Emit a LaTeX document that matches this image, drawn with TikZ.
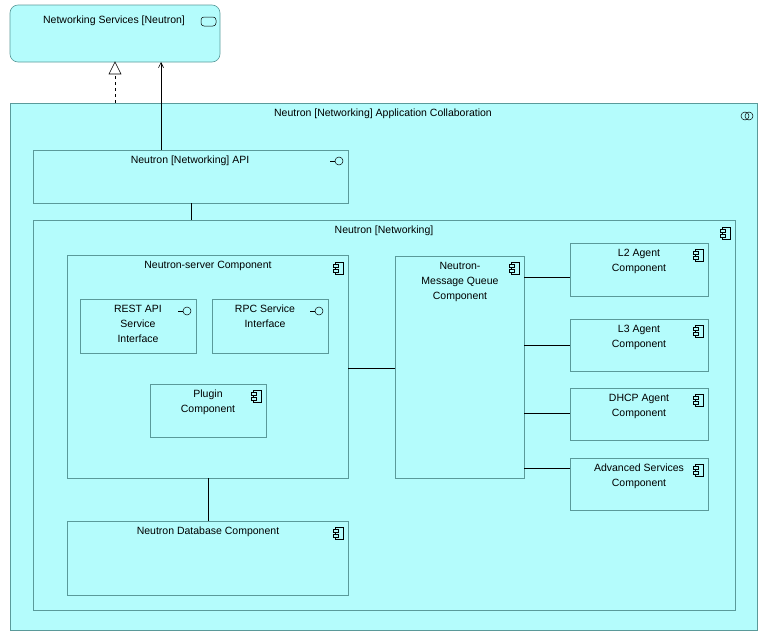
\documentclass[tikz,border=0pt]{standalone}
\usepackage{fontspec}
\setmainfont{Liberation Sans}
\usetikzlibrary{arrows.meta,calc}
\definecolor{boxfill}{HTML}{B4FCFC}
\definecolor{boxline}{HTML}{5A9A9A}
\tikzset{
  box/.style={draw=boxline,fill=boxfill,line width=0.6pt},
  lbl/.style={font=\fontsize{10.5}{15}\selectfont,align=center,anchor=north,inner sep=0pt},
  conn/.style={draw=black,line width=0.6pt},
}
% component icon at (x,y) top-right corner
\newcommand{\compicon}[1]{%
  \draw[line width=0.5pt] ($(#1)+(-13,5)$) rectangle ++(8,12);
  \draw[line width=0.5pt,fill=boxfill] ($(#1)+(-15,7)$) rectangle ++(5,3);
  \draw[line width=0.5pt,fill=boxfill] ($(#1)+(-15,12)$) rectangle ++(5,3);}
\newcommand{\ifaceicon}[1]{%
  \draw[line width=0.5pt] ($(#1)+(-18,11)$) -- ++(5,0);
  \draw[line width=0.5pt] ($(#1)+(-9,11)$) circle (4);}
\begin{document}
\begin{tikzpicture}[x=1pt,y=-1pt]
\useasboundingbox (0,0) rectangle (768,640);
% boxes
\draw[box,rounded corners=8] (10,5) rectangle (220,62);
\coordinate (svc) at (220,5);
\node[lbl] (svct) at (114,16) {Networking Services [Neutron]};
\draw[line width=0.5pt,rounded corners=3] ($(svc)+(-19,12)$) rectangle ++(15,9);

\draw[box] (10,103) rectangle (757,630);
\node[lbl] (colt) at (383,109) {Neutron [Networking] Application Collaboration};
\draw[line width=0.5pt] (745,116) circle (4) (749,116) circle (4);

\draw[box] (33,150) rectangle (348,203);
\node[lbl] (apit) at (190,156) {Neutron [Networking] API};
\ifaceicon{348,150}

\draw[box] (33,220) rectangle (735,610);
\node[lbl] (nett) at (384,226) {Neutron [Networking]};
\compicon{735,222}

\draw[box] (67,255) rectangle (348,478);
\node[lbl] (srvt) at (208,261) {Neutron-server Component};
\compicon{348,257}

\draw[box] (80,299) rectangle (196,353);
\node[lbl] at (138,305) {REST API\\Service\\Interface};
\ifaceicon{196,300}
\draw[box] (212,299) rectangle (328,353);
\node[lbl] at (265,305) {RPC Service\\Interface};
\ifaceicon{328,300}
\draw[box] (150,384) rectangle (266,437);
\node[lbl] at (208,390) {Plugin\\Component};
\compicon{266,385}

\draw[box] (395,256) rectangle (524,478);
\node[lbl] at (460,262) {Neutron-\\Message Queue\\Component};
\compicon{524,257}

\draw[box] (570,243) rectangle (708,296);
\node[lbl] at (639,249) {L2 Agent\\Component};
\compicon{708,244}
\draw[box] (570,319) rectangle (708,371);
\node[lbl] at (639,325) {L3 Agent\\Component};
\compicon{708,320}
\draw[box] (570,388) rectangle (708,440);
\node[lbl] at (639,394) {DHCP Agent\\Component};
\compicon{708,389}
\draw[box] (570,458) rectangle (708,510);
\node[lbl] at (639,464) {Advanced Services\\Component};
\compicon{708,459}

\draw[box] (67,521) rectangle (348,595);
\node[lbl] at (208,527) {Neutron Database Component};
\compicon{348,522}

% connectors
\draw[conn,dashed] (115,103) -- (115,74);
\draw[line width=0.6pt,fill=white] (115,62) -- (109,74) -- (121,74) -- cycle;
\draw[conn,-{Straight Barb[length=5pt,width=5pt]}] (161,150) -- (161,62);
\draw[conn] (191,203) -- (191,220);
\draw[conn] (348,368) -- (395,368);
\draw[conn] (208,478) -- (208,521);
\draw[conn] (524,277) -- (570,277);
\draw[conn] (524,345) -- (570,345);
\draw[conn] (524,413) -- (570,413);
\draw[conn] (524,468) -- (570,468);
\end{tikzpicture}
\end{document}
